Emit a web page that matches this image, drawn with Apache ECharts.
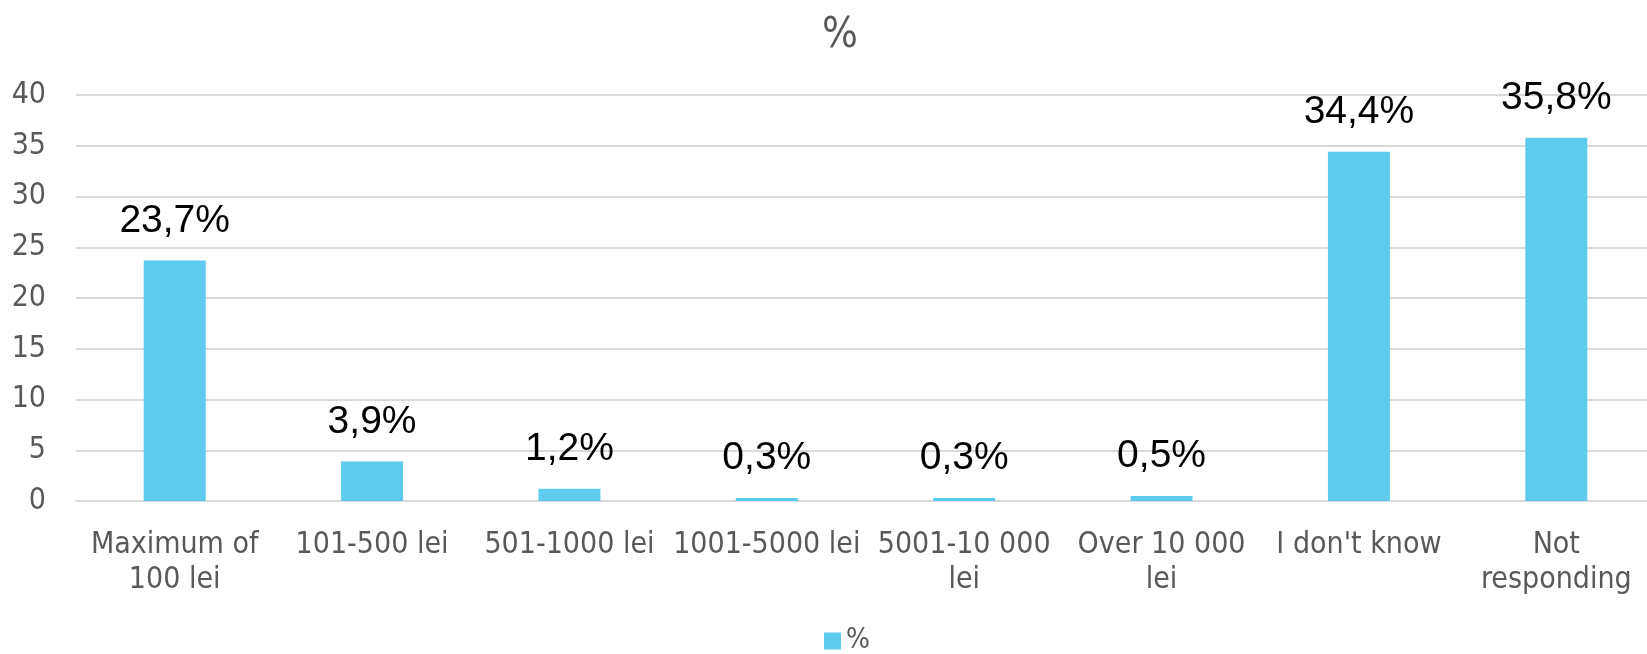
<!DOCTYPE html>
<html>
<head>
<meta charset="utf-8">
<script src="https://cdn.jsdelivr.net/npm/echarts@6/dist/echarts.min.js"></script>
<style>
  html, body { margin: 0; padding: 0; background: #fff; }
  #main { width: 1647px; height: 654px; }
</style>
</head>
<body>
<div id="main"></div>
<script>
// categories (Excel wrapped the long ones on two lines)
var categories = [
  "Maximum of\n100 lei",
  "101-500 lei",
  "501-1000 lei",
  "1001-5000 lei",
  "5001-10 000\nlei",
  "Over 10 000\nlei",
  "I don't know",
  "Not\nresponding"
];
var percents = [23.7, 3.9, 1.2, 0.3, 0.3, 0.5, 34.4, 35.8];
var yTicks = [0, 5, 10, 15, 20, 25, 30, 35, 40];
var seriesName = "%";

var axisFont = "'DejaVu Sans Condensed', 'DejaVu Sans', sans-serif";

var myChart = echarts.init(document.getElementById("main"));

var option = {
  animation: false,
  title: {
    text: seriesName,
    left: 817,
    top: 10,
    textStyle: {
      color: "#595959",
      fontSize: 42,
      fontWeight: "normal",
      fontFamily: axisFont
    }
  },
  legend: {
    data: [seriesName],
    top: 622,
    left: 819,
    icon: "rect",
    itemWidth: 17,
    itemHeight: 17,
    itemGap: 6,
    textStyle: {
      color: "#595959",
      fontSize: 28,
      fontFamily: axisFont
    }
  },
  // plot area runs slightly past the right edge, as in the original
  grid: {
    left: 76,
    right: -8,
    top: 95,
    bottom: 153,
    outerBoundsMode: "none"
  },
  xAxis: {
    type: "category",
    data: categories,
    axisTick: { show: false },
    axisLine: { lineStyle: { color: "#d9d9d9", width: 2 } },
    axisLabel: {
      interval: 0,
      margin: 27,
      color: "#595959",
      fontSize: 30,
      lineHeight: 35,
      fontFamily: axisFont
    }
  },
  yAxis: {
    type: "value",
    min: yTicks[0],
    max: yTicks[yTicks.length - 1],
    interval: yTicks[1] - yTicks[0],
    axisLine: { show: false },
    axisTick: { show: false },
    splitLine: { lineStyle: { color: "#d9d9d9", width: 2 } },
    axisLabel: {
      margin: 30,
      color: "#595959",
      fontSize: 30,
      fontFamily: axisFont
    }
  },
  series: [
    {
      name: seriesName,
      type: "bar",
      data: percents,
      barWidth: 62,
      itemStyle: { color: "#5ecbee" },
      label: {
        show: true,
        position: "top",
        distance: 20,
        color: "#000",
        fontSize: 39,
        fontFamily: "'Liberation Sans', Arial, sans-serif",
        formatter: function (p) {
          return String(p.value).replace(".", ",") + "%";
        }
      }
    }
  ]
};

myChart.setOption(option);
</script>
</body>
</html>
